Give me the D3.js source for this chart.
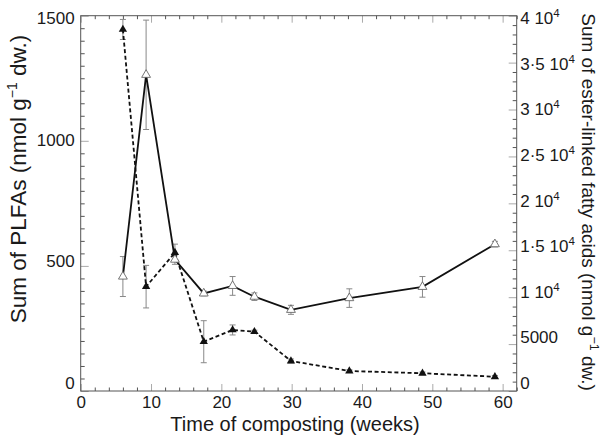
<!DOCTYPE html>
<html>
<head>
<meta charset="utf-8">
<script src="https://cdn.jsdelivr.net/npm/d3@7"></script>
<style>
  html, body { margin: 0; padding: 0; background: #fff; }
  svg { display: block; font-family: "Liberation Sans", Arial, Helvetica, sans-serif; }
</style>
</head>
<body>
<svg id="chart" width="601" height="438"></svg>
<script>
// ---- data ----
const weeks = [6.0, 9.3, 13.4, 17.5, 21.6, 24.7, 29.9, 38.2, 48.6, 58.9];
// Sum of ester-linked fatty acids (right axis), solid line, open triangles
const esterLinked = [12200, 33700, 14000, 10400, 11200, 10050, 8650, 9900, 11100, 15650];
const esterErr    = [2130, 5830, 500, 250, 1000, 400, 480, 990, 1100, 300];
// Sum of PLFAs (left axis), dashed line, filled triangles
const plfa    = [1445, 417, 553, 197, 244, 237, 120, 80, 71, 57];
const plfaErr = [40, 85, 34, 84, 20, 6, 8, 5, 5, 5];

const xTicks = [0, 10, 20, 30, 40, 50, 60];
const leftTicks = [0, 500, 1000, 1500];
const rightTicks = [0, 5000, 10000, 15000, 20000, 25000, 30000, 35000, 40000];

// ---- layout ----
const L = 80.7, R = 516.7, T = 15.7, B = 391;
const svg = d3.select("#chart");
const x = d3.scaleLinear().domain([0, 62]).range([L, R]);
const yL = d3.scaleLinear().domain([0, 1500]).range([B, T]);
const yR = d3.scaleLinear().domain([0, 40000]).range([B, T]);

const frameColor = "#555", majorColor = "#aaa", textColor = "#1a1a1a";
const FONT = "Liberation Sans, Arial, sans-serif";

// label vertical offset drift (labels sit a bit higher toward the bottom)
const labelShift = y => 2.6 - 10.6 * (y - T) / (B - T);

// minor ticks
function minorAxis(gen, scale, values, size, transform) {
  svg.append("g").attr("transform", transform)
    .call(gen(scale).tickValues(values).tickSize(size).tickFormat(""))
    .call(g => g.select(".domain").remove())
    .call(g => g.selectAll("line").attr("stroke", frameColor));
}
const rng = (a, b, s) => d3.range(a, b + 1e-9, s);
minorAxis(d3.axisBottom, x, rng(0, 62, 2).filter(v => v % 10), -3.5, `translate(0,${B})`);
minorAxis(d3.axisTop, x, rng(0, 62, 2).filter(v => v % 10), -3.5, `translate(0,${T})`);
minorAxis(d3.axisLeft, yL, rng(0, 1500, 50).filter(v => v % 500), -4, `translate(${L},0)`);
minorAxis(d3.axisRight, yR, rng(0, 40000, 1000).filter(v => v % 5000), -4, `translate(${R},0)`);

// major ticks (no labels) on top
svg.append("g").attr("transform", `translate(0,${T})`)
  .call(d3.axisTop(x).tickValues(xTicks).tickSize(-7).tickFormat(""))
  .call(g => g.select(".domain").remove())
  .call(g => g.selectAll("line").attr("stroke", majorColor));

// bottom axis with labels
svg.append("g").attr("transform", `translate(0,${B})`)
  .call(d3.axisBottom(x).tickValues(xTicks).tickFormat(d3.format("d"))
        .tickSizeInner(-7).tickSizeOuter(0).tickPadding(5))
  .call(g => g.select(".domain").remove())
  .call(g => g.selectAll("line").attr("stroke", majorColor))
  .call(g => g.selectAll("text").attr("font-size", 17).attr("fill", textColor)
      .attr("font-family", FONT));

// left axis with labels
svg.append("g").attr("transform", `translate(${L},0)`)
  .call(d3.axisLeft(yL).tickValues(leftTicks).tickFormat(d3.format("d"))
        .tickSizeInner(-8).tickSizeOuter(0).tickPadding(6))
  .call(g => g.select(".domain").remove())
  .call(g => g.selectAll("line").attr("stroke", majorColor))
  .call(g => g.selectAll("text").attr("font-size", 17).attr("fill", textColor)
      .attr("font-family", FONT)
      .attr("dy", d => (0.32 * 17 + labelShift(yL(d))) + "px"));

// right axis with labels
const rightFmt = v => {
  if (v === 0) return { m: "0", e: false };
  if (v === 5000) return { m: "5000", e: false };
  return { m: String(v / 10000).replace(".", "·") + " 10", e: true };
};
svg.append("g").attr("transform", `translate(${R},0)`)
  .call(d3.axisRight(yR).tickValues(rightTicks).tickSizeInner(-8).tickSizeOuter(0).tickPadding(4).tickFormat(""))
  .call(g => g.select(".domain").remove())
  .call(g => g.selectAll("line").attr("stroke", majorColor))
  .call(g => g.selectAll(".tick").each(function(d) {
      const f = rightFmt(d);
      const t = d3.select(this).append("text")
        .attr("x", 3.5).attr("y", 0)
        .attr("dy", (0.32 * 17 + labelShift(yR(d))) + "px")
        .attr("fill", textColor).attr("font-size", 17)
        .attr("font-family", FONT)
        .attr("text-anchor", "start");
      t.append("tspan").text(f.m);
      if (f.e) t.append("tspan").attr("font-size", 11.5).attr("dy", "-7").text("4");
  }));

// frame
svg.append("rect").attr("x", L).attr("y", T).attr("width", R - L).attr("height", B - T)
  .attr("fill", "none").attr("stroke", frameColor).attr("stroke-width", 1);

// ---- series ----
const dataE = weeks.map((w, i) => ({ w, v: esterLinked[i], e: esterErr[i] }));
const dataP = weeks.map((w, i) => ({ w, v: plfa[i], e: plfaErr[i] }));

function errorBars(data, y) {
  const g = svg.append("g").attr("stroke", "#888").attr("stroke-width", 1).attr("fill", "none");
  g.selectAll("path").data(data).join("path")
    .attr("d", d => {
      const cx = x(d.w), y1 = y(d.v + d.e), y2 = y(d.v - d.e);
      return `M${cx},${y1}V${y2}M${cx - 3},${y1}H${cx + 3}M${cx - 3},${y2}H${cx + 3}`;
    });
}
errorBars(dataE, yR);
errorBars(dataP, yL);

svg.append("path").datum(dataE)
  .attr("fill", "none").attr("stroke", "#111").attr("stroke-width", 1.8)
  .attr("d", d3.line().x(d => x(d.w)).y(d => yR(d.v)));
svg.append("path").datum(dataP)
  .attr("fill", "none").attr("stroke", "#111").attr("stroke-width", 1.8)
  .attr("stroke-dasharray", "4,2.6")
  .attr("d", d3.line().x(d => x(d.w)).y(d => yL(d.v)));

const tri = d3.symbol().type(d3.symbolTriangle);
svg.append("g").selectAll("path").data(dataE).join("path")
  .attr("transform", d => `translate(${x(d.w)},${yR(d.v)})`)
  .attr("d", tri.size(34)())
  .attr("fill", "#fff").attr("stroke", "#666").attr("stroke-width", 0.9);
svg.append("g").selectAll("path").data(dataP).join("path")
  .attr("transform", d => `translate(${x(d.w)},${yL(d.v)})`)
  .attr("d", tri.size(30)())
  .attr("fill", "#111");

// ---- titles ----
svg.append("text")
  .attr("x", 295).attr("y", 431)
  .attr("text-anchor", "middle").attr("font-size", 20).attr("fill", textColor)
  .text("Time of composting (weeks)");

const lt = svg.append("text")
  .attr("transform", "translate(26,179) rotate(-90)")
  .attr("text-anchor", "middle").attr("font-size", 22.5).attr("fill", textColor);
lt.append("tspan").text("Sum of PLFAs (nmol g");
lt.append("tspan").attr("font-size", 14).attr("dy", -9).text("−1");
lt.append("tspan").attr("dy", 9).text(" dw.)");

const rt = svg.append("text")
  .attr("transform", "translate(582,202) rotate(90)")
  .attr("text-anchor", "middle").attr("font-size", 19).attr("fill", textColor);
rt.append("tspan").text("Sum of ester-linked fatty acids (nmol g");
rt.append("tspan").attr("font-size", 12.5).attr("dy", -8).text("−1");
rt.append("tspan").attr("dy", 8).text(" dw.)");
</script>
</body>
</html>
